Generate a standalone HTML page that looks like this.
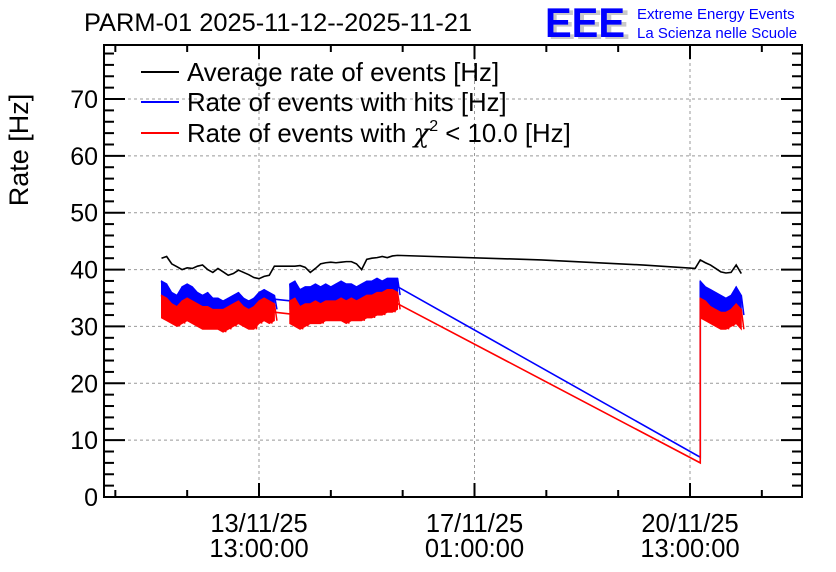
<!DOCTYPE html>
<html><head><meta charset="utf-8">
<style>
body{margin:0;background:#fff;}
svg{display:block;font-family:"Liberation Sans",sans-serif;}
</style></head>
<body>
<svg id="chart" width="836" height="572" viewBox="0 0 836 572">
<text x="84" y="31" font-size="25.4" fill="#000">PARM-01 2025-11-12--2025-11-21</text>
<g>
<text x="548" y="39" font-size="42" font-weight="bold" fill="#c8c8c8" textLength="82" lengthAdjust="spacingAndGlyphs">EEE</text>
<text x="545" y="37" font-size="42" font-weight="bold" fill="#0000ff" textLength="80" lengthAdjust="spacingAndGlyphs">EEE</text>
<text x="637" y="19" font-size="15" fill="#0000ff">Extreme Energy Events</text>
<text x="637" y="38" font-size="15" fill="#0000ff">La Scienza nelle Scuole</text>
</g>
<text transform="translate(28,150) rotate(-90)" text-anchor="middle" font-size="27">Rate [Hz]</text>
<g id="grid"></g><g id="axes"></g><g id="series"></g>
<rect x="104" y="45" width="698" height="452" fill="none" stroke="#000" stroke-width="2"/>
<g>
<line x1="141" y1="72" x2="179" y2="72" stroke="#000" stroke-width="2"/>
<text x="187" y="81" font-size="25.8">Average rate of events [Hz]</text>
<line x1="141" y1="102" x2="179" y2="102" stroke="#0000ff" stroke-width="2"/>
<text x="187" y="111" font-size="25.8">Rate of events with hits [Hz]</text>
<line x1="141" y1="133" x2="179" y2="133" stroke="#ff0000" stroke-width="2"/>
<text x="187" y="142" font-size="25.8">Rate of events with <tspan font-family="'DejaVu Serif',serif" font-style="italic">χ</tspan><tspan font-size="16" dy="-11">2</tspan><tspan dy="11"> &lt; 10.0 [Hz]</tspan></text>
</g>
</svg>
<script>
// hours relative to 13/11/25 13:00
const yTicks=[0,10,20,30,40,50,60,70];
const xTickHours=[0,84,168];
const xTickLabels=[["13/11/25","13:00:00"],["17/11/25","01:00:00"],["20/11/25","13:00:00"]];
const seg1Start=-38, seg2Start=12, seg3Start=172, binH=2;
const blackSeg1=[42,42.3,41,40.5,40,40.3,40.2,40.6,40.8,40,39.5,40.2,39.6,39,39.3,39.9,39.5,39.1,38.6,38.4,38.8,39,40.6];
const blackSeg2=[40.6,40.6,40.7,40.4,39.5,40.2,41,41.2,41.3,41.2,41.3,41.4,41.4,41,40,41.8,42,42.1,42.3,42.1,42.4,42.5];
const blackBridgeH=[110,150,170];
const blackBridgeV=[41.7,40.8,40.2];
const blackSeg3=[41.7,41.2,40.8,40.2,39.6,39.4,39.5,40.8,39.3];
const blueHi1=[38,37.5,36,35.5,37,37.5,37,36,35.5,36,35,35,34.5,35,35.5,36,35,34.5,35,36,36.5,36,35.5];
const blueLo1=[33.5,33,32.5,32,33,33.5,33,32.5,32,32,31.5,31.5,31.5,32,32.5,33,32,31.5,32,33,33.5,33,33];
const redHi1=[35.5,35,34,33.5,34.5,35,34.5,34,33.5,33.5,33,33,33,33.5,34,34.5,33.5,33,33.5,34.5,35,34.5,34];
const redLo1=[31.5,31,30.5,30,30.5,31,30.5,30,29.5,29.5,29.5,29.5,29,29.5,30,30.5,30,29.5,29.5,30.5,31,30.5,31];
const blueHi2=[37.5,38,36.5,37,37,37.5,37,37.5,37,37.5,38,37.5,37.5,37,37.5,38,38,38.5,38,38.5,38.5,38.5];
const blueLo2=[33,32.5,32,33,33,33.5,33,33.5,33.5,33.5,34,33.5,34,33.5,34,34.5,34.5,35,35,35.5,35.5,35.5];
const redHi2=[34.5,35,33.5,34,34,34.5,34,34.5,34.5,34.5,35,34.5,35,34.5,35,35.5,35.5,36,36,36.5,36.5,36];
const redLo2=[30.5,30,29.5,30,30.5,30.5,30.5,31,31,31,31,30.5,31,31,31,31.5,31.5,32,32,32.5,32.5,33];
const blueHi3=[38,37,36.5,36,35.5,35,35.5,37,35.5];
const blueLo3=[34,33,32.5,32,31.5,31.5,32,33,32];
const redHi3=[35,34.5,33.5,33,32.5,32.5,33,34,33];
const redLo3=[31.5,31,30.5,30,29.5,29.5,30,30.5,29.5];
const gapBlue=[34.8,34.5], gapRed=[32.5,32.2];
const dropBlue=7, dropRed=6;

const X=h=>259+h*(431/168);
const Y=v=>497-v*(452/79.5);
const NS="http://www.w3.org/2000/svg";
function mk(parent,tag,attrs){const e=document.createElementNS(NS,tag);for(const k in attrs)e.setAttribute(k,attrs[k]);parent.appendChild(e);return e;}
const grid=document.getElementById('grid'),axes=document.getElementById('axes'),ser=document.getElementById('series');
yTicks.forEach(v=>{
 const g=mk(grid,'line',{x1:104,x2:802,y1:Y(v),y2:Y(v),stroke:'#999','stroke-dasharray':'3,3','stroke-width':1});
 
 
 const t=mk(axes,'text',{x:98,y:Y(v)+9,'text-anchor':'end','font-size':25});t.textContent=v;
 
 
});
for(let v=0;v<=79.5;v+=2){const maj=v%10===0;const L=maj?21:10;
 mk(axes,'line',{x1:104,x2:104+L,y1:Y(v),y2:Y(v),stroke:'#000','stroke-width':2});
 mk(axes,'line',{x1:802,x2:802-L,y1:Y(v),y2:Y(v),stroke:'#000','stroke-width':2});}
xTickHours.forEach((h,i)=>{
 const g=mk(grid,'line',{x1:X(h),x2:X(h),y1:45,y2:497,stroke:'#999','stroke-dasharray':'3,3','stroke-width':1});
 
 
 const t=mk(axes,'text',{x:X(h),y:532,'text-anchor':'middle','font-size':25.5});
 
 
 mk(t,'tspan',{x:X(h)}).textContent=xTickLabels[i][0];
 mk(t,'tspan',{x:X(h),dy:25}).textContent=xTickLabels[i][1];
});
for(let h=-56;h<=196;h+=28){const x=X(h);if(x<105||x>801)continue;const L=(h%84===0)?14:7;
 mk(axes,'line',{x1:x,x2:x,y1:497,y2:497-L,stroke:'#000','stroke-width':2});
 mk(axes,'line',{x1:x,x2:x,y1:45,y2:45+L,stroke:'#000','stroke-width':2});}
function pts(start,arr){return arr.map((v,i)=>[X(start+i*binH),Y(v)]);}
function band(start,hi,lo,color,name){
 const up=pts(start,hi),dn=pts(start,lo).reverse();
 const p=mk(ser,'polygon',{points:up.concat(dn).map(a=>a.join(',')).join(' '),fill:color,stroke:color,'stroke-width':1});
 
 
 let z=[];hi.forEach((v,i)=>{z.push([X(start+i*binH),Y(v)]);z.push([X(start+i*binH+1),Y(lo[i])]);});
 mk(ser,'polyline',{points:z.map(a=>a.join(',')).join(' '),fill:'none',stroke:color,'stroke-width':1.5});
}
function line(points,color,name){const p=mk(ser,'polyline',{points:points.map(a=>a.join(',')).join(' '),fill:'none',stroke:color,'stroke-width':1.6});
 
 }
const e1=seg1Start+(blueHi1.length-1)*binH, e2=seg2Start+(blueHi2.length-1)*binH;
line([[X(e1),Y(gapBlue[0])],[X(seg2Start),Y(gapBlue[1])]],'#0000ff','blue-gap-line');
line([[X(e2),Y((blueHi2[blueHi2.length-1]+blueLo2[blueLo2.length-1])/2)],[X(seg3Start),Y(dropBlue)],[X(seg3Start),Y(blueHi3[0])]],'#0000ff','blue-drop-line');
band(seg1Start,blueHi1,blueLo1,'#0000ff','blue-series-seg1');
band(seg2Start,blueHi2,blueLo2,'#0000ff','blue-series-seg2');
band(seg3Start,blueHi3,blueLo3,'#0000ff','blue-series-seg3');
line([[X(e1),Y(gapRed[0])],[X(seg2Start),Y(gapRed[1])]],'#ff0000','red-gap-line');
line([[X(e2),Y(redLo2[redLo2.length-1]+1)],[X(seg3Start),Y(dropRed)],[X(seg3Start),Y(redHi3[0])]],'#ff0000','red-drop-line');
band(seg1Start,redHi1,redLo1,'#ff0000','red-series-seg1');
band(seg2Start,redHi2,redLo2,'#ff0000','red-series-seg2');
band(seg3Start,redHi3,redLo3,'#ff0000','red-series-seg3');
const bl=pts(seg1Start,blackSeg1).concat(pts(seg2Start,blackSeg2),blackBridgeH.map((h,i)=>[X(h),Y(blackBridgeV[i])]),pts(seg3Start,blackSeg3));
line(bl,'#000','black-average-series');
</script>
</body></html>
